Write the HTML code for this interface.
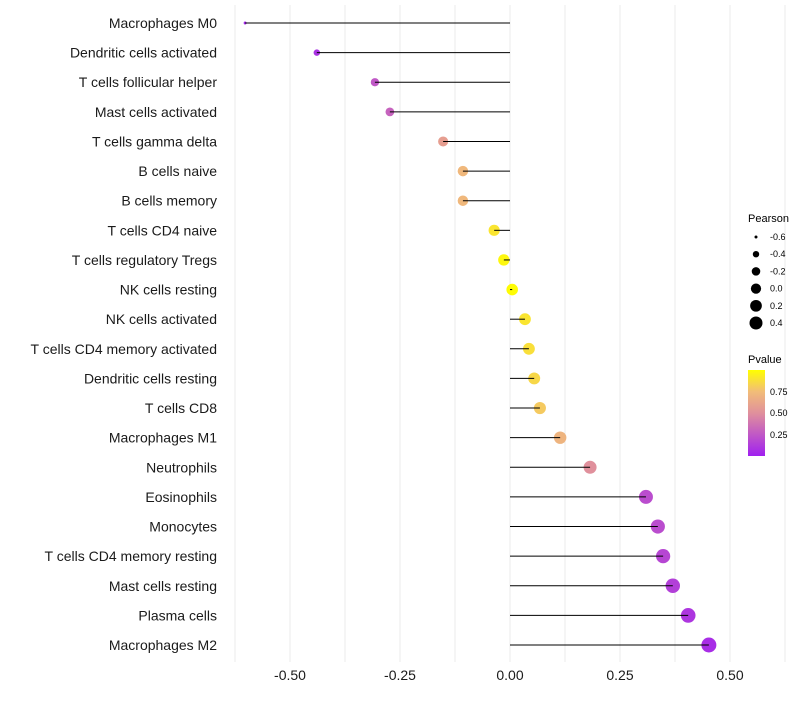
<!DOCTYPE html>
<html><head><meta charset="utf-8"><style>
body{margin:0;background:#fff;font-family:"Liberation Sans",sans-serif;}
</style></head><body>
<svg id="chart" width="800" height="700" xmlns="http://www.w3.org/2000/svg" font-family="Liberation Sans, sans-serif">
<defs><linearGradient id="pg" x1="0" y1="1" x2="0" y2="0">
<stop offset="0" stop-color="#a020f0"/><stop offset="0.5" stop-color="#e0909c"/><stop offset="0.75" stop-color="#f2bd78"/><stop offset="1" stop-color="#ffff00"/></linearGradient></defs>
<g id="grid"></g>
<g id="dots"></g>
<g id="marks"></g>
<g id="ylabels"></g>
<g id="xlabels"></g>
<g id="sizeleg">
<text x="748" y="222" font-size="11">Pearson</text>
</g>
<g>
<text x="748" y="363" font-size="11">Pvalue</text>
<rect x="748" y="370" width="17" height="86" fill="url(#pg)"/>
<text x="770" y="395" font-size="9">0.75</text>
<text x="770" y="416" font-size="9">0.50</text>
<text x="770" y="438" font-size="9">0.25</text>
</g>
</svg>
<script>
const categories=["Macrophages M0","Dendritic cells activated","T cells follicular helper","Mast cells activated","T cells gamma delta","B cells naive","B cells memory","T cells CD4 naive","T cells regulatory  Tregs ","NK cells resting","NK cells activated","T cells CD4 memory activated","Dendritic cells resting","T cells CD8","Macrophages M1","Neutrophils","Eosinophils","Monocytes","T cells CD4 memory resting","Mast cells resting","Plasma cells","Macrophages M2"];
const pearson=[-0.602,-0.439,-0.307,-0.273,-0.152,-0.107,-0.107,-0.036,-0.014,0.005,0.034,0.043,0.055,0.068,0.114,0.182,0.309,0.336,0.348,0.370,0.405,0.452];
const pvalue=[0.03,0.08,0.25,0.3,0.58,0.72,0.72,0.9,0.97,0.99,0.9,0.88,0.85,0.8,0.7,0.5,0.2,0.2,0.17,0.14,0.1,0.06];
const xTicks=[-0.5,-0.25,0,0.25,0.5];
const xTickLabels=["-0.50","-0.25","0.00","0.25","0.50"];
const legendVals=[-0.6,-0.4,-0.2,0.0,0.2,0.4];
const legendLabels=["-0.6","-0.4","-0.2","0.0","0.2","0.4"];
const NS="http://www.w3.org/2000/svg";
const x=v=>510+v*440;
const y=i=>23+i*(622/21);
const r=v=>Math.sqrt(Math.max(0.5,2.25+(v+0.6)/1.05*53.75));
const rl=v=>Math.sqrt(Math.max(0.5,2.25+(v+0.6)/1.0*40));
function lerp(a,b,t){return a.map((c,i)=>Math.round(c+(b[i]-c)*t));}
function col(p){const s=[[160,32,240],[224,144,156],[242,189,120],[255,255,0]];let c;
if(p<0.5)c=lerp(s[0],s[1],p/0.5);else if(p<0.75)c=lerp(s[1],s[2],(p-0.5)/0.25);else c=lerp(s[2],s[3],(p-0.75)/0.25);return `rgb(${c})`;}
function mk(t,a,parent){const e=document.createElementNS(NS,t);for(const k in a)e.setAttribute(k,a[k]);document.getElementById(parent).appendChild(e);return e;}
for(let v=-0.625;v<=0.63;v+=0.125){const l=mk('line',{x1:x(v),x2:x(v),y1:5,y2:662,stroke:'#ebebeb','stroke-width':1},'grid');

}
categories.forEach((c,i)=>{
const d=mk('circle',{cx:x(pearson[i]),cy:y(i),r:r(pearson[i]),fill:col(pvalue[i])},'dots');


const s=mk('line',{x1:x(0),x2:x(pearson[i]),y1:y(i),y2:y(i),stroke:'#000','stroke-width':1},'marks');


const t=mk('text',{x:217,y:y(i)+5,'text-anchor':'end','font-size':14,fill:'#1a1a1a'},'ylabels');t.textContent=c;


});
xTicks.forEach((v,i)=>{const t=mk('text',{x:x(v),y:680,'text-anchor':'middle','font-size':14,fill:'#1a1a1a'},'xlabels');t.textContent=xTickLabels[i];

});
legendVals.forEach((v,i)=>{const yy=237+i*17.2;
const c=mk('circle',{cx:756,cy:yy,r:rl(v),fill:'#000'},'sizeleg');


const t=mk('text',{x:770,y:yy+3,'font-size':9},'sizeleg');t.textContent=legendLabels[i];

});
</script>
</body></html>
